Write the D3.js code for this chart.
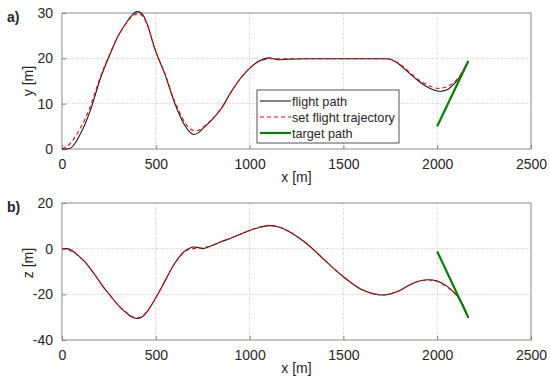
<!DOCTYPE html>
<html>
<head>
<meta charset="utf-8">
<script src="https://cdn.jsdelivr.net/npm/d3@7"></script>
<style>
  body { margin: 0; background: #fff; }
  text { font-family: "Liberation Sans", Arial, sans-serif; fill: #262626; }
</style>
</head>
<body>
<script>
// x positions along the path (m)
var xs = [0,25,50,75,100,125,150,175,200,225,250,300,350,375,400,425,450,500,550,600,650,675,700,725,750,800,850,900,950,1000,1050,1100,1150,1200,1300,1400,1500,1600,1700,1750,1800,1850,1900,1950,2000,2050,2100,2130,2166];

// panel a) lateral y [m]
var flightY = [0,0,0.3,1.6,3.5,5.7,8.4,11.6,15,17.8,20.3,25,28.3,29.6,30.3,29.9,28,21.5,16.3,10.2,5.5,4,3.2,3.5,4.5,6.5,9,12.5,15.5,17.8,19.4,20.1,19.7,19.8,19.9,19.9,19.9,19.9,19.9,19.8,18.6,16.8,15,13.6,12.8,13,14.8,16.6,19.4];
var setY    = [0,0.5,1.5,3,4.8,6.8,9.3,12.3,15.4,18.1,20.5,25,28.1,29.3,29.8,29.5,27.8,21.5,16.5,10.6,6.2,4.8,4.1,4.1,4.7,6.6,9,12.5,15.5,17.8,19.3,19.9,19.9,19.9,19.9,19.9,19.9,19.9,19.9,19.8,18.8,17,15.3,14.1,13.4,13.7,15.1,16.8,19.4];

// panel b) vertical z [m]
var flightZ = [0,0,-0.7,-2.2,-4,-6,-8.6,-11.4,-14.4,-17.3,-19.8,-24.8,-28.6,-30,-30.6,-30,-28,-21.5,-14,-6.5,-1.3,0,0.7,0.5,0,1.4,3.1,4.6,6.3,8,9.3,10.1,9.6,8,2.5,-5,-12.3,-18,-20.3,-19.8,-18.3,-16,-14.3,-13.6,-14.2,-16.3,-20,-23.5,-30.2];
var setZ    = [0,-0.3,-1,-2.4,-4.1,-6,-8.6,-11.4,-14.4,-17.3,-19.8,-24.8,-28.4,-29.8,-30.3,-29.8,-27.8,-21.5,-14,-6.7,-1.6,-0.4,0,0.2,0.4,1.4,3.1,4.6,6.3,8,9.3,10.1,9.6,8,2.5,-5,-12.3,-18,-20.3,-19.8,-18.3,-16,-14.3,-13.7,-14.4,-16.6,-20.2,-23.6,-30.2];

// target path
var targetX = [2000, 2166];
var targetY = [5, 19.4];
var targetZ = [-1.2, -30.2];

var xTicks = [0, 500, 1000, 1500, 2000, 2500];
var yTicks = [0, 10, 20, 30];
var zTicks = [-40, -20, 0, 20];
var legendLabels = ["flight path", "set flight trajectory", "target path"];

var width = 550, height = 380;
var left = 62, right = 531;

var svg = d3.select("body").append("svg")
    .attr("width", width)
    .attr("height", height);

svg.append("rect").attr("width", width).attr("height", height).attr("fill", "#fff");

var xScale = d3.scaleLinear().domain([0, 2500]).range([left, right]);
var fmt = function(d) { return String(d); };

function panel(top, bottom, domain, ticks, ys, yset, ytarget, ylabel, tag, labelY) {
  var yScale = d3.scaleLinear().domain(domain).range([bottom, top]);
  var g = svg.append("g");

  // grid
  g.selectAll(".vg").data(xTicks.slice(1, -1)).enter().append("line")
    .attr("x1", function(d) { return xScale(d); })
    .attr("x2", function(d) { return xScale(d); })
    .attr("y1", top).attr("y2", bottom)
    .attr("stroke", "#c4c4c4").attr("stroke-dasharray", "1,1.5");
  g.selectAll(".hg").data(ticks.slice(1, -1)).enter().append("line")
    .attr("x1", left).attr("x2", right)
    .attr("y1", function(d) { return yScale(d); })
    .attr("y2", function(d) { return yScale(d); })
    .attr("stroke", "#c4c4c4").attr("stroke-dasharray", "1,1.5");

  // axes
  var xa = g.append("g").attr("transform", "translate(0," + bottom + ")")
    .call(d3.axisBottom(xScale).tickValues(xTicks).tickFormat(fmt).tickSize(-4).tickPadding(10));
  var ya = g.append("g").attr("transform", "translate(" + left + ",0)")
    .call(d3.axisLeft(yScale).tickValues(ticks).tickFormat(fmt).tickSize(-4).tickPadding(9));
  [xa, ya].forEach(function(a) {
    a.select(".domain").remove();
    a.selectAll("line").attr("stroke", "#808080");
    a.selectAll("text").attr("font-size", "14px").attr("fill", "#262626")
      .style("font-family", "'Liberation Sans', Arial, sans-serif");
  });

  g.append("rect")
    .attr("x", left).attr("y", top)
    .attr("width", right - left).attr("height", bottom - top)
    .attr("fill", "none").attr("stroke", "#8a8a8a");

  var line = d3.line()
    .x(function(d) { return xScale(d[0]); })
    .y(function(d) { return yScale(d[1]); })
    .curve(d3.curveCatmullRom.alpha(0.5));

  g.append("path").datum(d3.zip(xs, ys))
    .attr("d", line).attr("fill", "none")
    .attr("stroke", "#1a1a1a").attr("stroke-width", 1.1);
  g.append("path").datum(d3.zip(xs, yset))
    .attr("d", line).attr("fill", "none")
    .attr("stroke", "#ff0000").attr("stroke-width", 1.1)
    .attr("stroke-dasharray", "4,3");
  g.append("path").datum(d3.zip(targetX, ytarget))
    .attr("d", d3.line().x(function(d) { return xScale(d[0]); }).y(function(d) { return yScale(d[1]); }))
    .attr("fill", "none").attr("stroke", "#008000").attr("stroke-width", 2.2);

  g.append("text")
    .attr("transform", "translate(33," + labelY + ") rotate(-90)")
    .attr("text-anchor", "middle").attr("font-size", "14px").text(ylabel);
  g.append("text")
    .attr("x", (left + right) / 2).attr("y", bottom + 33)
    .attr("text-anchor", "middle").attr("font-size", "14px").text("x [m]");
  g.append("text")
    .attr("x", 7).attr("y", top + 9)
    .attr("font-size", "14px").attr("font-weight", "bold").attr("fill", "#000")
    .text(tag);
}

panel(13, 149, [0, 30], yTicks, flightY, setY, targetY, "y [m]", "a)", 81);
panel(203, 340, [-40, 20], zTicks, flightZ, setZ, targetZ, "z [m]", "b)", 263);

// legend
var lg = svg.append("g").attr("transform", "translate(257,90)");
lg.append("rect").attr("width", 142).attr("height", 53)
  .attr("fill", "#fff").attr("stroke", "#262626").attr("stroke-width", 0.8);
var styles = [
  {stroke: "#1a1a1a", w: 1.1, dash: null},
  {stroke: "#ff0000", w: 1.1, dash: "4,3"},
  {stroke: "#008000", w: 2.2, dash: null}
];
legendLabels.forEach(function(lab, i) {
  var yy = 11 + i * 16;
  lg.append("line").attr("x1", 3).attr("x2", 34).attr("y1", yy).attr("y2", yy)
    .attr("stroke", styles[i].stroke).attr("stroke-width", styles[i].w)
    .attr("stroke-dasharray", styles[i].dash);
  lg.append("text").attr("x", 35).attr("y", yy + 4.5)
    .attr("font-size", "12.7px").attr("fill", "#000").text(lab);
});
</script>
</body>
</html>
